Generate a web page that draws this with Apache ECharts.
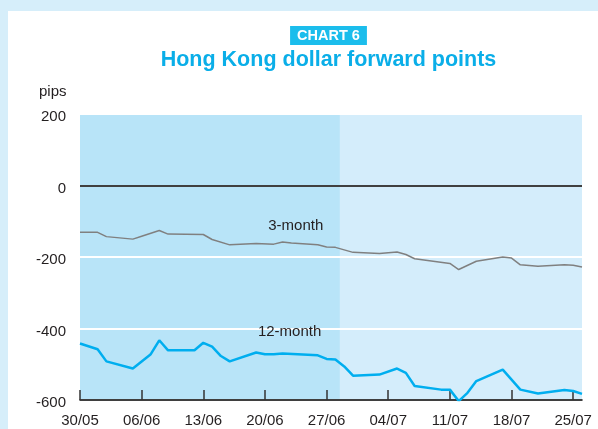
<!DOCTYPE html>
<html><head><meta charset="utf-8">
<script src="https://cdn.jsdelivr.net/npm/echarts@6/dist/echarts.min.js"></script>
<style>
html,body{margin:0;padding:0;background:#d6eefa;}
#panel{position:absolute;left:8px;top:11px;width:590px;height:418px;background:#fff;}
#chart{position:absolute;left:0;top:0;width:598px;height:429px;}
</style></head>
<body>
<div id="panel"></div>
<div id="chart"></div>
<script>
// x values are day offsets from 30/05
const tickLabels = ['30/05','06/06','13/06','20/06','27/06','04/07','11/07','18/07','25/07'];
const days3m = [0,2,3,6,7,9,10,14,15,17,20,22,23,24,27,28,29,31,34,36,37,38,42,43,45,48,49,50,52,55,56,57];
const vals3m = [-131,-131,-143,-150,-142,-126,-136,-137,-151,-166,-162,-164,-158,-161,-166,-172,-173,-187,-190,-186,-193,-205,-218,-235,-212,-200,-203,-222,-226,-222,-223,-228];
const days12m = [0,2,3,6,8,9,10,13,14,15,16,17,20,21,22,23,27,28,29,30,31,34,36,37,38,41,42,43,44,45,48,50,52,55,56,57];
const vals12m = [-442,-458,-492,-512,-473,-433,-461,-461,-440,-451,-477,-492,-467,-472,-472,-470,-475,-485,-487,-506,-532,-529,-512,-524,-561,-571,-571,-603,-580,-547,-515,-571,-582,-572,-575,-583];
const yTicks = [-600,-400,-200,0,200];
const shadedEnd = 29.5;

const pair = (xs, ys) => xs.map((x,i)=>[x, ys[i]]);
const tickDays = tickLabels.map((_,i)=>i*7);
const font = 'Liberation Sans, Arial, Helvetica, sans-serif';

const chart = echarts.init(document.getElementById('chart'), null, {renderer:'canvas'});
chart.setOption({
  animation:false,
  backgroundColor:'transparent',
  grid:{left:80,right:16,top:114,bottom:29,show:true,backgroundColor:'#d4edfb',borderWidth:0},
  xAxis:{type:'value',min:0,max:57,interval:7,z:4,
    axisLine:{show:true,onZero:false,lineStyle:{color:'#000',width:1.5}},
    axisTick:{show:true,inside:true,length:10,customValues:tickDays,lineStyle:{color:'#333',width:1.5}},
    axisLabel:{customValues:tickDays,margin:13,color:'#231f20',fontSize:15,fontFamily:font,
      formatter:v=>tickLabels[Math.round(v/7)]||''},
    splitLine:{show:false}},
  yAxis:{type:'value',min:-600,max:200,interval:200,z:3,
    axisLine:{show:false},axisTick:{show:false},
    axisLabel:{margin:14,formatter:v=>'{a|'+v+'}',
      rich:{a:{color:'#231f20',fontSize:15,fontFamily:font,padding:[6,0,0,0]}}},
    splitLine:{show:true,lineStyle:{color:'#ffffff',width:2}}},
  graphic:[
    {type:'text',left:39,top:84,style:{text:'pips',fill:'#231f20',font:'15px '+font}},
    {type:'text',x:328.5,y:26,style:{text:'CHART 6',fill:'#fff',font:'bold 14.5px '+font,align:'center',
      backgroundColor:'#1bbdec',padding:[2,7,2,7]}},
    {type:'text',x:328.5,y:49,style:{text:'Hong Kong dollar forward points',fill:'#0aaee8',font:'bold 21.5px '+font,align:'center'}}
  ],
  series:[
    {type:'line',data:[],z:1,silent:true,
      markArea:{silent:true,itemStyle:{color:'#b8e4f8'},data:[[{xAxis:0},{xAxis:shadedEnd}]]}},
    {type:'line',data:[],z:4,silent:true,
      markLine:{silent:true,symbol:'none',label:{show:false},lineStyle:{color:'#000',width:1.5,type:'solid'},data:[{yAxis:0}]}},
    {name:'3-month',type:'line',data:pair(days3m,vals3m),z:5,symbol:'none',
      lineStyle:{color:'#808080',width:1.5},
      markPoint:{symbol:'circle',symbolSize:0,label:{show:true,formatter:'3-month',color:'#231f20',fontSize:15,fontFamily:font,position:'inside'},
        data:[{coord:[24.5,-114]}]}},
    {name:'12-month',type:'line',data:pair(days12m,vals12m),z:6,symbol:'none',
      lineStyle:{color:'#00aeef',width:2.5},
      markPoint:{symbol:'circle',symbolSize:0,label:{show:true,formatter:'12-month',color:'#231f20',fontSize:15,fontFamily:font,position:'inside'},
        data:[{coord:[23.8,-410]}]}}
  ]
});
</script>
</body></html>
